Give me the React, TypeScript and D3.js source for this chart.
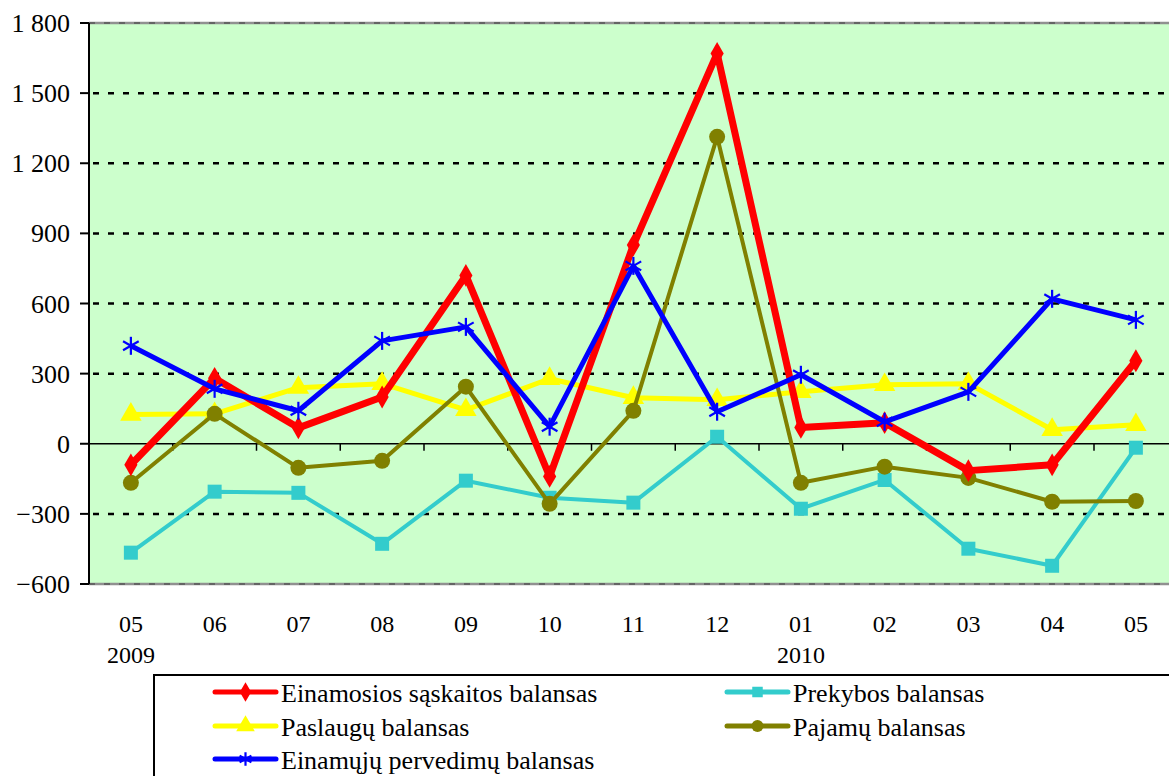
import React, { useEffect, useRef } from 'react';
import * as d3 from 'd3';

const months = ['05', '06', '07', '08', '09', '10', '11', '12', '01', '02', '03', '04', '05'];
const years = ['2009', '', '', '', '', '', '', '', '2010', '', '', '', ''];
const yTicks = [-600, -300, 0, 300, 600, 900, 1200, 1500, 1800];

const einamosios = [-90, 280, 68, 200, 720, -140, 850, 1670, 70, 90, -115, -90, 355];
const prekybos = [-466, -205, -210, -428, -158, -231, -252, 30, -278, -155, -449, -522, -17];
const paslaugu = [125, 128, 240, 257, 145, 278, 197, 188, 222, 252, 257, 60, 81];
const pajamu = [-167, 128, -103, -73, 244, -257, 141, 1313, -167, -98, -146, -248, -245];
const pervedimu = [419, 235, 141, 440, 500, 73, 761, 137, 295, 94, 222, 620, 530];

const series = [
  { name: 'Einamosios sąskaitos balansas', values: einamosios, color: '#ff0000', width: 7, marker: 'diamond' },
  { name: 'Prekybos balansas', values: prekybos, color: '#33cccc', width: 4, marker: 'square' },
  { name: 'Paslaugų balansas', values: paslaugu, color: '#ffff00', width: 5, marker: 'triangle' },
  { name: 'Pajamų balansas', values: pajamu, color: '#808000', width: 4, marker: 'circle' },
  { name: 'Einamųjų pervedimų balansas', values: pervedimu, color: '#0000ff', width: 5, marker: 'star' },
];

// draw order in the plot (blue on top, red under it etc.)
const drawOrder = [1, 2, 3, 0, 4];

const fontFamily = "'Liberation Serif', 'Times New Roman', serif";

const App = () => {
  const ref = useRef<SVGSVGElement>(null);

  useEffect(() => {
    const svg = d3.select(ref.current);
    svg.selectAll('*').remove();

    const left = 89;
    const top = 23;
    const bottom = 584;
    const step = 83.75;

    const x = d3.scaleBand<number>()
      .domain(months.map((_, i) => i))
      .range([left, left + step * months.length]);
    const cx = (i: number) => (x(i) as number) + x.bandwidth() / 2;

    const y = d3.scaleLinear().domain([-600, 1800]).range([bottom, top]);

    // text placed by its baseline
    const addText = (g: any, tx: number, ty: number, txt: string, size: number, anchor = 'start') =>
      g.append('text')
        .attr('x', tx).attr('y', ty)
        .attr('text-anchor', anchor)
        .attr('font-family', fontFamily)
        .attr('font-size', size)
        .attr('fill', '#000')
        .text(txt);

    // plot background
    svg.append('rect')
      .attr('x', left)
      .attr('y', top)
      .attr('width', step * months.length)
      .attr('height', bottom - top)
      .attr('fill', '#ccffcc');

    // grid lines
    yTicks.filter(t => t !== 0 && t !== 1800 && t !== -600).forEach(t => {
      svg.append('line')
        .attr('x1', left).attr('x2', left + step * months.length)
        .attr('y1', y(t)).attr('y2', y(t))
        .attr('stroke', '#000')
        .attr('stroke-width', 2.5)
        .attr('stroke-dasharray', '6 9')
        .attr('stroke-dashoffset', -4);
    });

    // top / bottom border of plot area
    [1800, -600].forEach(t => {
      svg.append('line')
        .attr('x1', left).attr('x2', left + step * months.length)
        .attr('y1', y(t)).attr('y2', y(t))
        .attr('stroke', '#909090').attr('stroke-width', 2.5);
      svg.append('line')
        .attr('x1', left).attr('x2', left + step * months.length)
        .attr('y1', y(t)).attr('y2', y(t))
        .attr('stroke', '#555').attr('stroke-width', 1.5)
        .attr('stroke-dasharray', '6 9');
    });

    // zero axis with ticks between categories
    svg.append('line')
      .attr('x1', left).attr('x2', left + step * months.length)
      .attr('y1', y(0)).attr('y2', y(0))
      .attr('stroke', '#000').attr('stroke-width', 1.5);
    months.forEach((_, i) => {
      const xx = (x(i) as number) + step;
      svg.append('line')
        .attr('x1', xx).attr('x2', xx)
        .attr('y1', y(0)).attr('y2', y(0) + 7)
        .attr('stroke', '#000').attr('stroke-width', 1.5);
    });

    // y axis
    svg.append('line')
      .attr('x1', left).attr('x2', left)
      .attr('y1', top).attr('y2', bottom)
      .attr('stroke', '#000').attr('stroke-width', 2);
    yTicks.forEach(t => {
      svg.append('line')
        .attr('x1', left - 9).attr('x2', left)
        .attr('y1', y(t)).attr('y2', y(t))
        .attr('stroke', '#000').attr('stroke-width', 2);
      addText(svg, 70, y(t) + 9, d3.format(',')(t).replace(',', ' '), 26, 'end');
    });

    // x labels
    months.forEach((m, i) => {
      addText(svg, cx(i), 632, m, 24, 'middle');
      if (years[i]) addText(svg, cx(i), 663, years[i], 24, 'middle');
    });

    const drawMarker = (g: any, type: string, px: number, py: number, color: string, scale = 1) => {
      if (type === 'diamond') {
        g.append('path')
          .attr('d', d3.symbol(d3.symbolDiamond, 150 * scale)())
          .attr('transform', `translate(${px},${py})`)
          .attr('fill', color);
      } else if (type === 'square') {
        const s = 14 * scale;
        g.append('rect')
          .attr('x', px - s / 2).attr('y', py - s / 2)
          .attr('width', s).attr('height', s)
          .attr('fill', color);
      } else if (type === 'triangle') {
        g.append('path')
          .attr('d', d3.symbol(d3.symbolTriangle, 200 * scale)())
          .attr('transform', `translate(${px},${py})`)
          .attr('fill', color);
      } else if (type === 'circle') {
        g.append('circle')
          .attr('cx', px).attr('cy', py).attr('r', 8 * scale)
          .attr('fill', color);
      } else if (type === 'star') {
        const r = 9 * scale;
        const pts = [[0, -r, 0, r], [-r * 0.87, -r * 0.5, r * 0.87, r * 0.5], [-r * 0.87, r * 0.5, r * 0.87, -r * 0.5]];
        pts.forEach(p => {
          g.append('line')
            .attr('x1', px + p[0]).attr('y1', py + p[1])
            .attr('x2', px + p[2]).attr('y2', py + p[3])
            .attr('stroke', color).attr('stroke-width', 2.2);
        });
      }
    };

    const line = d3.line<number>()
      .x((_, i) => cx(i))
      .y(d => y(d));

    drawOrder.forEach(k => {
      const s = series[k];
      const g = svg.append('g');
      g.append('path')
        .datum(s.values)
        .attr('fill', 'none')
        .attr('stroke', s.color)
        .attr('stroke-width', s.width)
        .attr('stroke-linejoin', 'round')
        .attr('d', line);
      s.values.forEach((v, i) => drawMarker(g, s.marker, cx(i), y(v), s.color));
    });

    // legend
    const legend = svg.append('g');
    legend.append('rect')
      .attr('x', 154).attr('y', 675)
      .attr('width', 1100).attr('height', 200)
      .attr('fill', '#fff')
      .attr('stroke', '#000').attr('stroke-width', 2);

    const legendPos = [[215, 692], [727, 692], [215, 726], [727, 726], [215, 759]];
    series.forEach((s, k) => {
      const [lx, ly] = legendPos[k];
      legend.append('line')
        .attr('x1', lx).attr('x2', lx + 61)
        .attr('y1', ly).attr('y2', ly)
        .attr('stroke', s.color).attr('stroke-width', 5)
        .attr('stroke-linecap', 'round');
      drawMarker(legend, s.marker, lx + 30.5, ly, s.color, 0.75);
      addText(legend, lx + 66, ly + 10, s.name, 26);
    });
  }, []);

  return (
    <svg
      ref={ref}
      width={1169}
      height={776}
      style={{ position: 'absolute', left: 0, top: 0, background: '#fff' }}
    />
  );
};

export default App;
